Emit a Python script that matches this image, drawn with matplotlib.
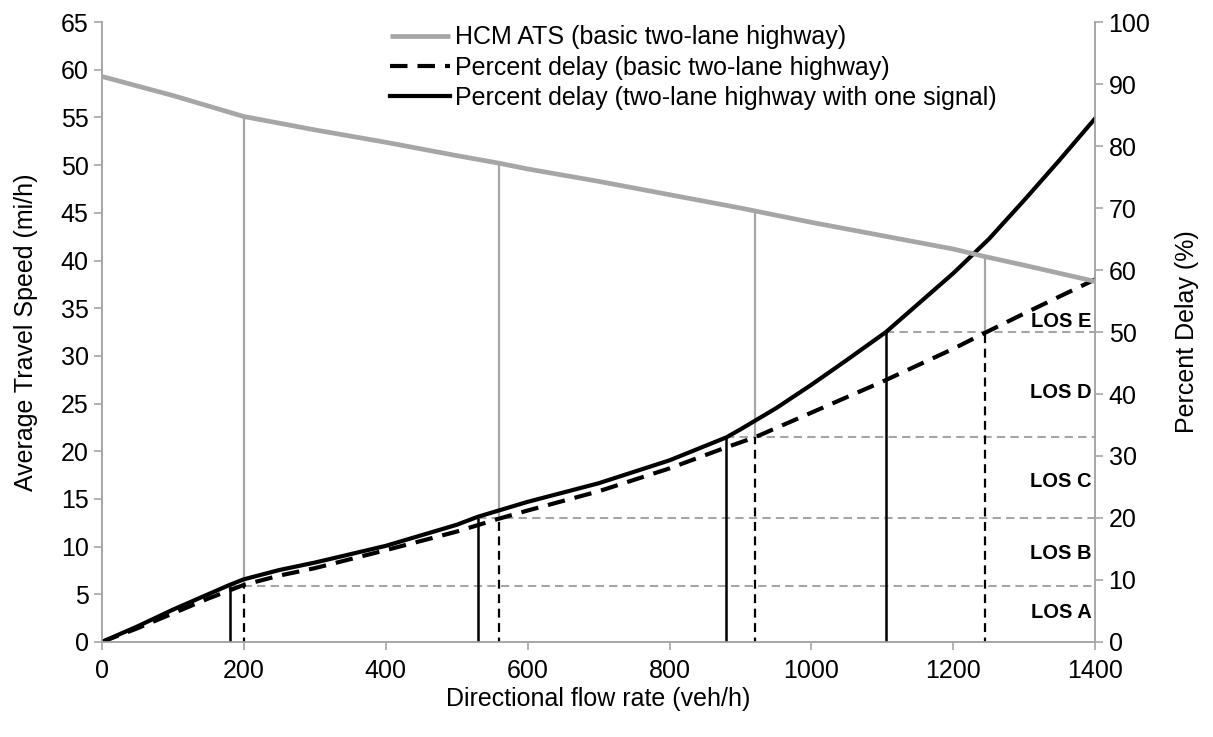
# ATS and percent delay vs directional flow rate, with LOS thresholds

import numpy as np
import matplotlib.pyplot as plt

plt.rcParams['font.family'] = ['Liberation Sans', 'DejaVu Sans']

# HCM average travel speed (mi/h), basic two-lane highway
ats_flow = [0, 100, 200, 300, 400, 500, 560, 600, 700, 800, 900, 920, 1000, 1100, 1200, 1245, 1300, 1400]
ats_speed = [59.3, 57.3, 55.1, 53.7, 52.4, 51.0, 50.2, 49.6, 48.3, 46.9, 45.5, 45.2, 44.0, 42.6, 41.2, 40.4, 39.5, 37.8]

# percent delay, basic two-lane highway (dashed)
basic_flow = [0, 50, 100, 150, 200, 250, 300, 400, 500, 560, 600, 700, 800, 880, 920, 1000, 1100, 1200, 1245, 1300, 1400]
basic_delay = [0, 2.2, 4.6, 7.0, 9.2, 10.7, 11.9, 14.8, 17.8, 19.9, 21.2, 24.3, 28.0, 31.4, 33.0, 37.0, 42.0, 47.3, 49.9, 53.0, 58.5]

# percent delay, two-lane highway with one signal (solid)
signal_flow = [0, 50, 100, 150, 180, 200, 250, 300, 400, 500, 530, 600, 700, 800, 880, 900, 950, 1000, 1050, 1105, 1150, 1200, 1250, 1300, 1350, 1400]
signal_delay = [0, 2.5, 5.2, 7.7, 9.2, 10.1, 11.6, 12.8, 15.5, 18.9, 20.2, 22.6, 25.6, 29.3, 33.0, 34.3, 37.7, 41.5, 45.5, 50.0, 54.5, 59.5, 65.0, 71.3, 77.8, 84.5]

# LOS thresholds (percent delay) and where each curve crosses them
los_thresholds = [9, 20, 33, 50]
basic_cross = [200, 560, 920, 1245]
signal_cross = [180, 530, 880, 1105]
los_labels = ['LOS A', 'LOS B', 'LOS C', 'LOS D', 'LOS E']

gray = '#a6a6a6'

fig = plt.figure(figsize=(12.13, 7.37), dpi=100)
ax1 = fig.add_axes([0.084, 0.129, 0.819, 0.841])
ax2 = ax1.twinx()

ax1.set_xlim(0, 1400)
ax1.set_ylim(0, 65)
ax2.set_ylim(0, 100)
ax1.set_xticks(np.arange(0, 1401, 200))
ax1.set_yticks(np.arange(0, 66, 5))
ax2.set_yticks(np.arange(0, 101, 10))

# speed on the left axis, converted to % so the gray verticals can live on ax2
ats_top = np.interp(basic_cross, ats_flow, ats_speed) * 100 / 65

# LOS horizontal lines, from the signal curve crossing to the right edge
for t, xs in zip(los_thresholds, signal_cross):
    ax2.hlines(t, xs, 1400, colors=gray, linestyles=(0, (4, 2.5)), lw=1.5, zorder=1)

# gray verticals from ATS down to the basic curve thresholds
ax2.vlines(basic_cross, los_thresholds, ats_top, colors=gray, lw=1.6, zorder=2)
# black verticals
ax2.vlines(basic_cross, 0, los_thresholds, colors='black', linestyles=(2, (4, 2.5)), lw=1.6, zorder=3)
ax2.vlines(signal_cross, 0, los_thresholds, colors='black', lw=1.8, zorder=3)

l1, = ax1.plot(ats_flow, ats_speed, color=gray, lw=3.4, solid_capstyle='butt',
               label='HCM ATS (basic two-lane highway)')
l2, = ax2.plot(basic_flow, basic_delay, color='black', lw=3.0, dashes=(4.2, 2.4),
               label='Percent delay (basic two-lane highway)', zorder=4)
l3, = ax2.plot(signal_flow, signal_delay, color='black', lw=3.0,
               label='Percent delay (two-lane highway with one signal)', zorder=5)

# LOS labels
for lab, y in zip(los_labels, [4.7, 14.2, 25.9, 40.2, 51.7]):
    ax2.text(1395, y, lab, ha='right', va='center', fontsize=14.5, fontweight='bold')

ax2.legend(handles=[l1, l2, l3], loc='upper left', bbox_to_anchor=(0.267, 1.031),
           frameon=False, fontsize=18, handlelength=2.4, handletextpad=0.2,
           labelspacing=0.25)

for ax in (ax1, ax2):
    ax.spines['top'].set_visible(False)
    for s in ('left', 'right', 'bottom'):
        ax.spines[s].set_color(gray)
        ax.spines[s].set_linewidth(1.2)
    ax.tick_params(colors=gray, labelcolor='black', labelsize=18, length=6, width=1.2)
ax1.tick_params(axis='x', pad=6)
ax1.set_zorder(ax2.get_zorder() + 1)
ax1.patch.set_visible(False)

ax1.set_xlabel('Directional flow rate (veh/h)', fontsize=18, labelpad=3)
ax1.set_ylabel('Average Travel Speed (mi/h)', fontsize=18, labelpad=16)
ax2.set_ylabel('Percent Delay (%)', fontsize=18, labelpad=18)

fig.savefig('out.png', dpi=100)
